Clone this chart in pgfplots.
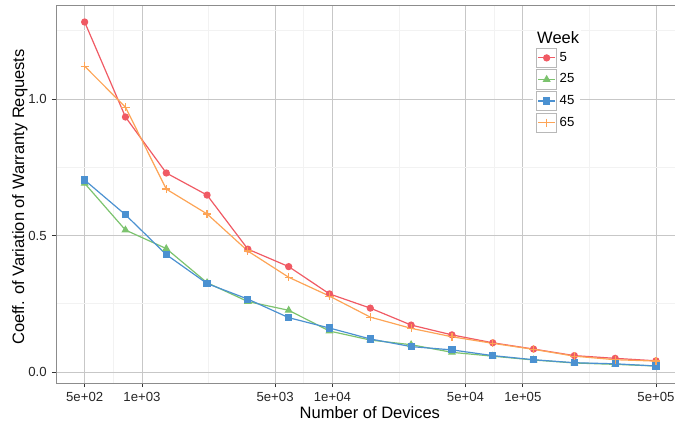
\documentclass[border=0pt]{standalone}
\usepackage{pgfplots}
\pgfplotsset{compat=1.18}
\usepackage{fontspec}
\setmainfont{Liberation Sans}

\definecolor{wkA}{HTML}{F05A64}
\definecolor{wkB}{HTML}{7CC36E}
\definecolor{wkC}{HTML}{4B91D1}
\definecolor{wkD}{HTML}{FDA456}

% Coefficient of variation of warranty requests by fleet size (x = number of devices)
\pgfplotstableread{
n       w5     w25    w45    w65
500     1.282  0.691  0.703  1.120
818.9   0.934  0.520  0.576  0.970
1341.4  0.729  0.452  0.430  0.670
2197.0  0.648  0.327  0.324  0.579
3598.4  0.450  0.258  0.267  0.443
5893.8  0.386  0.226  0.199  0.347
9653.5  0.286  0.150  0.161  0.278
15811   0.234  0.117  0.121  0.201
25897   0.172  0.100  0.093  0.160
42417   0.136  0.072  0.081  0.129
69475   0.107  0.058  0.060  0.105
113792  0.084  0.044  0.045  0.083
186380  0.060  0.033  0.034  0.058
305270  0.050  0.028  0.030  0.045
500000  0.041  0.022  0.022  0.040
}\cvdata

\begin{document}
\begin{tikzpicture}
\begin{axis}[
  at={(0,0)}, anchor=south west,
  scale only axis, width=412.67pt, height=252pt,
  xmode=log, log basis x=10,
  xmin=353.6, xmax=629500,
  ymin=-0.0403, ymax=1.3443,
  separate axis lines,
  axis x line*=box, axis y line*=left,
  axis line style={draw=black!45, line width=0.6pt, -},
  xtick pos=left, ytick pos=left,
  tick align=outside,
  major tick length=2.7pt, minor tick length=0pt,
  tick style={black!80, line width=0.5pt},
  xtick={500,1000,5000,10000,50000,100000,500000},
  xticklabels={5e+02,1e+03,5e+03,1e+04,5e+04,1e+05,5e+05},
  minor xtick={707.1,2236.1,7071.1,22360.7,70710.7,223606.8},
  ytick={0,0.5,1},
  yticklabels={0.0,0.5,1.0},
  minor ytick={0.25,0.75,1.25},
  grid=both,
  major grid style={black!22, line width=0.6pt},
  minor grid style={black!5, line width=0.5pt},
  ticklabel style={font=\fontsize{8.8}{10}\selectfont, text=black!85},
  /pgf/number format/assume math mode=true,
  label style={font=\fontsize{11}{13}\selectfont},
  xlabel={Number of Devices},
  ylabel={Coeff. of Variation of Warranty Requests},
  xlabel style={at={(axis description cs:0.507,0)}, anchor=north, yshift=-12pt},
  ylabel style={at={(axis description cs:-0.0582,0.492)}, anchor=center},
  legend style={at={(axis description cs:0.7706,0.8916)}, anchor=north west,
    draw=none, fill=white, inner xsep=2pt, inner ysep=1pt,
    font=\fontsize{8.8}{10}\selectfont, row sep=0.9pt,
    nodes={inner xsep=1.8pt, inner ysep=0pt}},
  legend cell align=left,
  legend image code/.code={
    \draw[draw=black!28, fill=white, line width=0.5pt, solid, mark=none]
      (0pt,-6.5pt) rectangle (13.3pt,6.5pt);
    \draw[mark repeat=2, mark phase=2]
      plot coordinates {(1.2pt,0pt) (6.65pt,0pt) (12.1pt,0pt)};
  },
  every axis plot/.append style={line width=0.8pt},
]
\addplot[wkA, mark=*, mark size=2pt] table[x=n, y=w5] {\cvdata};
\addlegendentry{5}
\addplot[wkB, mark=triangle*, mark size=2.3pt] table[x=n, y=w25] {\cvdata};
\addlegendentry{25}
\addplot[wkC, mark=square*, mark size=2pt] table[x=n, y=w45] {\cvdata};
\addlegendentry{45}
\addplot[wkD, mark=+, mark size=2.7pt] table[x=n, y=w65] {\cvdata};
\addlegendentry{65}
\node[anchor=west, fill=white, inner sep=1pt, font=\fontsize{11}{13}\selectfont]
  at (axis description cs:0.7745,0.9127) {Week};
\end{axis}
\pgfresetboundingbox
\useasboundingbox (-37.33pt,-26.67pt) rectangle (412.67pt,255.33pt);
\end{tikzpicture}
\end{document}
